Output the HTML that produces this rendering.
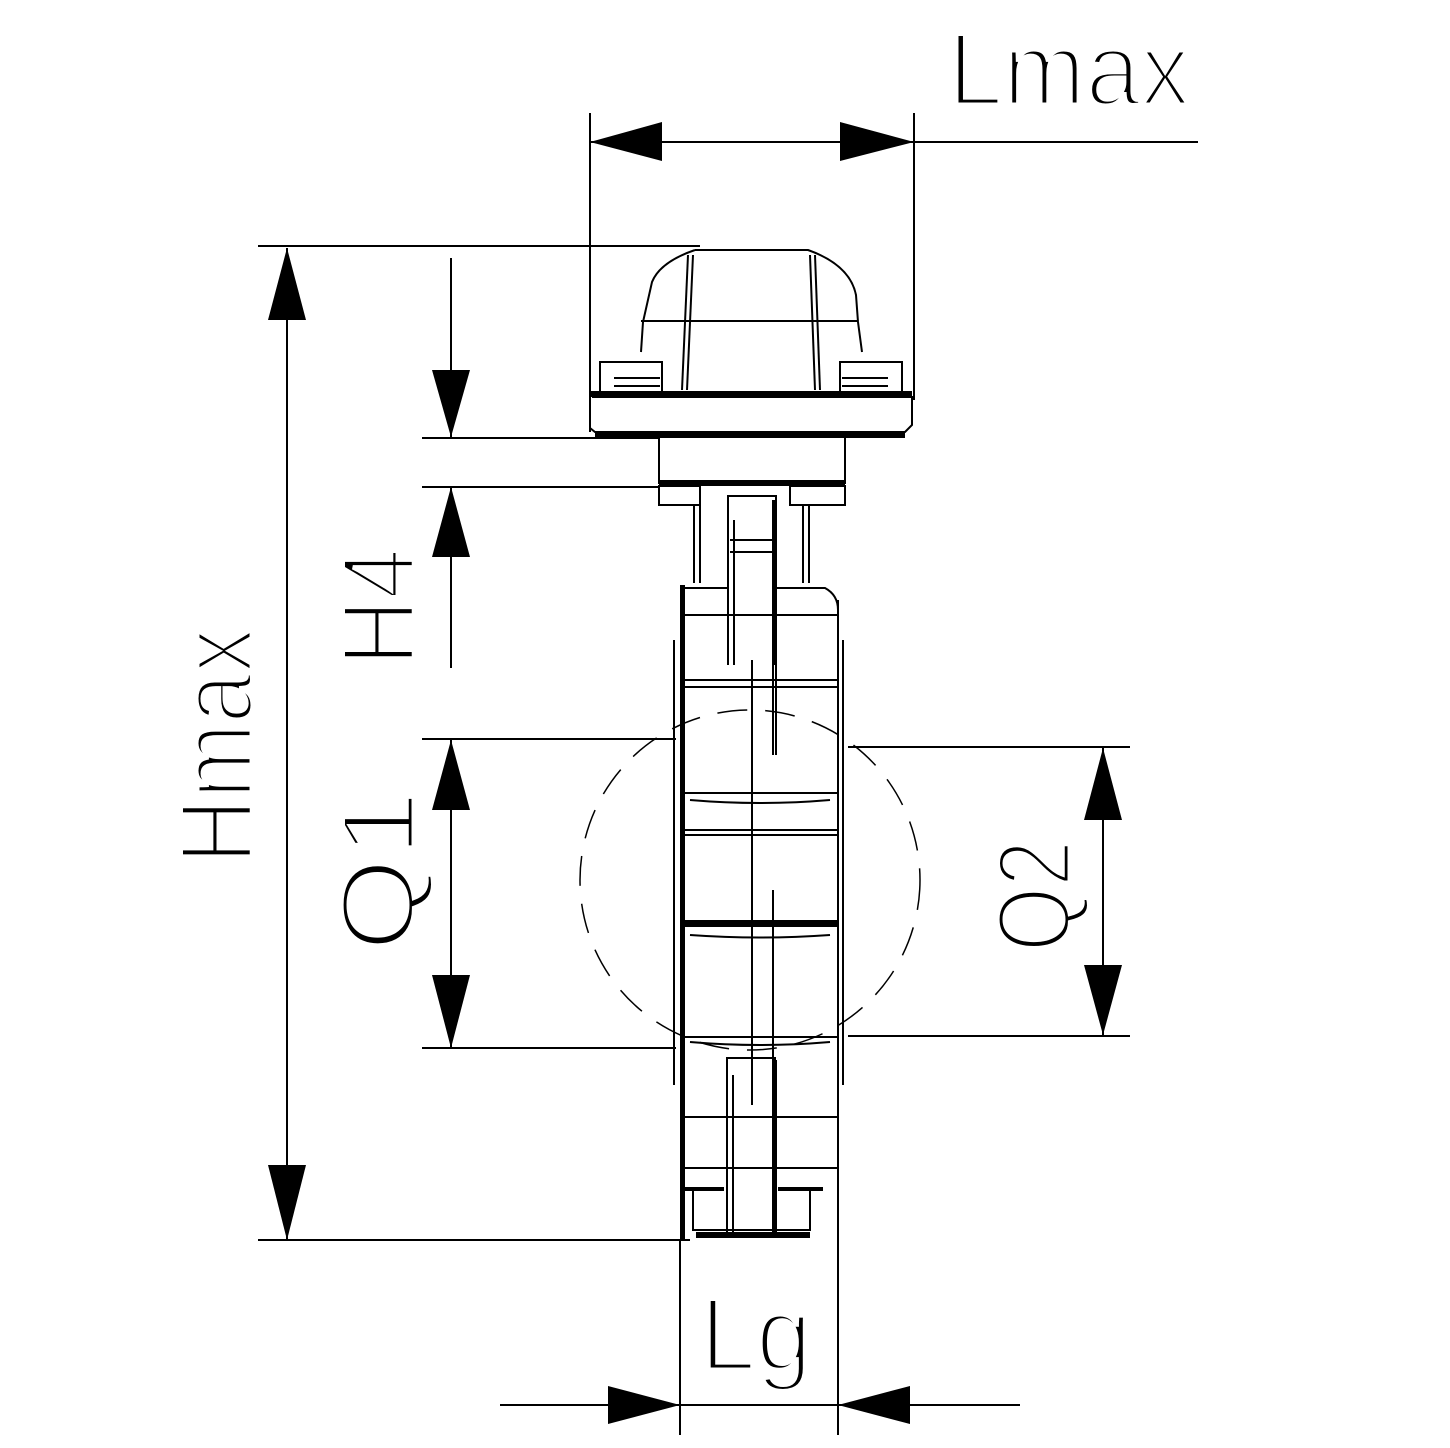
<!DOCTYPE html>
<html><head><meta charset="utf-8"><style>
html,body{margin:0;padding:0;background:#fff}
svg{display:block}
text{font-family:"Liberation Sans",sans-serif;font-size:104px;fill:#000;stroke:#fff;stroke-width:5px}
</style></head><body>
<svg width="1450" height="1448" viewBox="0 0 1450 1448" xmlns="http://www.w3.org/2000/svg">
<g stroke="#000" stroke-width="2" fill="none">
<line x1="590" y1="142" x2="1198" y2="142"/>
<line x1="590" y1="113" x2="590" y2="432"/>
<line x1="914" y1="113" x2="914" y2="400"/>
<line x1="287" y1="248" x2="287" y2="1240"/>
<line x1="258" y1="246" x2="700" y2="246"/>
<line x1="258" y1="1240" x2="690" y2="1240"/>
<line x1="451" y1="258" x2="451" y2="437"/>
<line x1="451" y1="487" x2="451" y2="668"/>
<line x1="422" y1="438" x2="660" y2="438"/>
<line x1="422" y1="487" x2="660" y2="487"/>
<line x1="451" y1="740" x2="451" y2="1048"/>
<line x1="422" y1="739" x2="676" y2="739"/>
<line x1="422" y1="1048" x2="676" y2="1048"/>
<line x1="1103" y1="748" x2="1103" y2="1035"/>
<line x1="848" y1="747" x2="1130" y2="747"/>
<line x1="848" y1="1036" x2="1130" y2="1036"/>
<line x1="500" y1="1405" x2="1020" y2="1405"/>
<line x1="680" y1="1240" x2="680" y2="1435"/>
<line x1="838" y1="1085" x2="838" y2="1435"/>
</g>
<g fill="#000">
<polygon points="590,142 662,122 662,161"/>
<polygon points="914,142 840,122 840,161"/>
<polygon points="287,248 268,320 306,320"/>
<polygon points="287,1240 268,1165 306,1165"/>
<polygon points="451,437 432,370 470,370"/>
<polygon points="451,487 432,557 470,557"/>
<polygon points="451,740 432,810 470,810"/>
<polygon points="451,1048 432,975 470,975"/>
<polygon points="1103,748 1084,820 1122,820"/>
<polygon points="1103,1035 1084,965 1122,965"/>
<polygon points="680,1405 608,1386 608,1424"/>
<polygon points="838,1405 910,1386 910,1424"/>
</g>
<g stroke="#000" stroke-width="2" fill="none">
<path d="M695,250 L808,250 Q850,265 856,295 L858,322 L862,352"/>
<path d="M695,250 Q660,262 652,282 L643,322 L641,352"/>
<line x1="641" y1="321" x2="858" y2="321"/>
<line x1="688" y1="255" x2="682" y2="390"/>
<line x1="693" y1="255" x2="687" y2="390"/>
<line x1="810" y1="255" x2="815" y2="390"/>
<line x1="815" y1="255" x2="820" y2="390"/>
<path d="M592,397 L912,397 L912,425 L905,432 L595,432 L590,428 L590,397"/>
<rect x="600" y="362" width="62" height="30"/>
<rect x="840" y="362" width="62" height="30"/>
<line x1="614" y1="378" x2="660" y2="378"/>
<line x1="614" y1="386" x2="660" y2="386"/>
<line x1="842" y1="378" x2="888" y2="378"/>
<line x1="842" y1="386" x2="888" y2="386"/>
<rect x="659" y="437" width="186" height="46"/>
<rect x="659" y="486" width="41" height="19"/>
<rect x="790" y="486" width="55" height="19"/>
<line x1="694" y1="505" x2="694" y2="583"/>
<line x1="700" y1="505" x2="700" y2="583"/>
<line x1="803" y1="505" x2="803" y2="583"/>
<line x1="809" y1="505" x2="809" y2="583"/>
<path d="M728,665 L728,496 L776,496 L776,665"/>
<line x1="734" y1="520" x2="734" y2="665"/>
<line x1="730" y1="540" x2="774" y2="540"/>
<line x1="730" y1="552" x2="774" y2="552"/>
<line x1="674" y1="640" x2="674" y2="1085"/>
<line x1="843" y1="640" x2="843" y2="1085"/>
<line x1="838" y1="600" x2="838" y2="1240"/>
<path d="M682,588 L728,588 M776,588 L825,588 Q838,595 838,610"/>
<line x1="682" y1="615" x2="838" y2="615"/>
<line x1="682" y1="680" x2="838" y2="680"/>
<line x1="682" y1="687" x2="838" y2="687"/>
<line x1="682" y1="793" x2="838" y2="793"/>
<path d="M690,800 Q760,806 830,800"/>
<line x1="682" y1="830" x2="838" y2="830"/>
<line x1="682" y1="835" x2="838" y2="835"/>
<path d="M690,935 Q760,940 830,935"/>
<line x1="682" y1="922" x2="838" y2="922"/>
<line x1="682" y1="1037" x2="838" y2="1037"/>
<path d="M690,1042 Q760,1048 830,1042"/>
<line x1="682" y1="1117" x2="838" y2="1117"/>
<line x1="752" y1="660" x2="752" y2="1105"/>
<line x1="773" y1="660" x2="773" y2="755"/>
<line x1="776" y1="660" x2="776" y2="755"/>
<line x1="773" y1="890" x2="773" y2="1150"/>
<path d="M727,1238 L727,1058 L775,1058 L775,1238"/>
<line x1="733" y1="1075" x2="733" y2="1238"/>
<line x1="682" y1="1168" x2="838" y2="1168"/>
<path d="M693,1188 L693,1230 L810,1230 L810,1188"/>
<circle cx="750" cy="880" r="170" stroke-dasharray="30,18" stroke-width="1.5"/>
</g>
<g fill="#000">
<rect x="680" y="585" width="5" height="655"/>
<rect x="680" y="920" width="158" height="7"/>
<rect x="590" y="391" width="322" height="6"/>
<rect x="595" y="432" width="310" height="6"/>
<rect x="659" y="480" width="186" height="6"/>
<rect x="772" y="500" width="5" height="165"/>
<rect x="772" y="1060" width="5" height="178"/>
<rect x="696" y="1232" width="114" height="6"/>
<rect x="682" y="1187" width="42" height="4"/>
<rect x="778" y="1187" width="45" height="4"/>
</g>
<text x="948" y="105" textLength="242" lengthAdjust="spacingAndGlyphs">Lmax</text>
<text x="700" y="1370" textLength="112" lengthAdjust="spacingAndGlyphs">Lg</text>
<text transform="translate(252,864) rotate(-90)" textLength="236" lengthAdjust="spacingAndGlyphs">Hmax</text>
<text transform="translate(414,666) rotate(-90)" textLength="118" lengthAdjust="spacingAndGlyphs">H4</text>
<text transform="translate(414,952) rotate(-90)" textLength="162" lengthAdjust="spacingAndGlyphs">Q1</text>
<text transform="translate(1070,952) rotate(-90)" textLength="112" lengthAdjust="spacingAndGlyphs">Q2</text>
</svg>
</body></html>
